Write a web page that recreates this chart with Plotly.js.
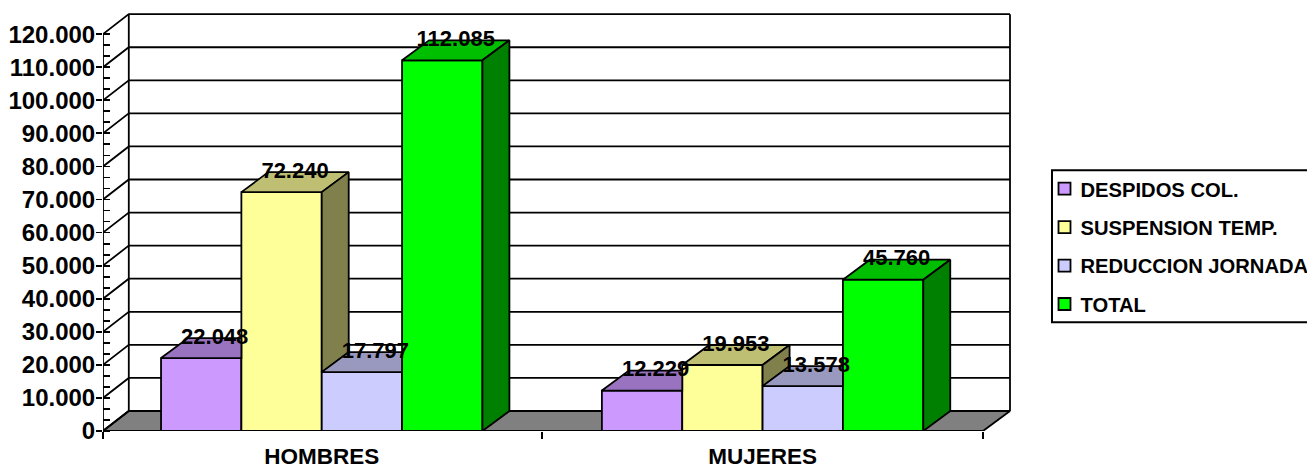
<!DOCTYPE html>
<html>
<head>
<meta charset="utf-8">
<script src="https://cdn.plot.ly/plotly-3.0.1.min.js"></script>
<style>html,body{margin:0;padding:0;background:#fff;overflow:hidden}#chart{width:1307px;height:465px}</style>
</head>
<body>
<div id="chart"></div>
<script>
const categories = ['HOMBRES', 'MUJERES'];
const despidos = [22048, 12229];
const suspension = [72240, 19953];
const reduccion = [17797, 13578];
const total = [112085, 45760];
const seriesNames = ['DESPIDOS COL.', 'SUSPENSION TEMP.', 'REDUCCION JORNADA', 'TOTAL'];
const yTicks = [0,10000,20000,30000,40000,50000,60000,70000,80000,90000,100000,110000,120000];

const seriesValues = [despidos, suspension, reduccion, total];
const frontColors = ['#CC99FF', '#FFFF99', '#CCCCFF', '#00FF00'];
const topColors   = ['#9973BF', '#BFBF73', '#9999BF', '#00BF00'];
const sideColors  = ['#664D80', '#80804D', '#666680', '#008000'];

// scale: pixels per axis unit
const W = 1307, H = 465;
const pxLeft = 102.7, pxRight = 1012, pxBase = 430.8, pxCat0 = 321.5;
const pxPerCat = 441, pxPerY = 397 / 120000;
const yMax = 127000;
const xMin = -(pxCat0 - pxLeft) / pxPerCat, xMax = xMin + (pxRight - pxLeft) / pxPerCat;
const depthX = 27 / pxPerCat, depthY = 20 / pxPerY;
const leftDepthX = 25.8 / pxPerCat;
const floorRight = 1.5;
const barGap = 0.271, barW = (1 - barGap) / 4;
const lw = 1.8;

const fmt = v => String(v).replace(/\B(?=(\d{3})+$)/g, '.');
const traces = [];
const wallL = xMin + leftDepthX, wallR = floorRight + depthX, wallTop = 120000 + depthY;

function poly(pts, fill, overlay) {
  traces.push({
    type: 'scatter', mode: 'lines', x: pts.map(p => p[0]), y: pts.map(p => p[1]),
    fill: 'toself', fillcolor: fill, line: {color: '#000', width: lw},
    showlegend: false, hoverinfo: 'skip', cliponaxis: false,
    xaxis: overlay ? 'x2' : 'x', yaxis: overlay ? 'y2' : 'y'
  });
}

// floor on the base subplot
poly([[xMin, 0], [wallL, depthY], [wallR, depthY], [floorRight, 0], [xMin, 0]], '#808080', false);

// wall grid, side wall and axis lines on the base subplot
const gx = [], gy = [];
yTicks.forEach(v => {
  gx.push(xMin, wallL, wallR, null);
  gy.push(v, v + depthY, v + depthY, null);
});
gx.push(xMin, xMin, null, wallL, wallL, null, wallR, wallR, null, xMin, floorRight);
gy.push(0, 120000, null, depthY, wallTop, null, depthY, wallTop, null, 0, 0);
traces.push({type: 'scatter', mode: 'lines', x: gx, y: gy, line: {color: '#000', width: lw},
  showlegend: false, hoverinfo: 'skip', cliponaxis: false, connectgaps: false});

// front faces: real bars on the overlay subplot
seriesValues.forEach((vals, s) => {
  traces.push({
    type: 'bar', name: seriesNames[s], x: [0, 1], y: vals, xaxis: 'x2', yaxis: 'y2',
    marker: {color: frontColors[s], line: {color: '#000', width: lw}},
    legendgroup: 'g' + s, hoverinfo: 'skip', cliponaxis: false
  });
});

// top and side faces, derived from the same values
categories.forEach((c, ci) => {
  seriesValues.forEach((vals, s) => {
    const v = vals[ci];
    const xl = ci - 2 * barW + s * barW, xr = xl + barW;
    const next = s < seriesValues.length - 1 ? seriesValues[s + 1][ci] : null;
    if (next !== null && next > v) {
      poly([[xl, v], [xl + depthX, v + depthY], [xr, v + depthY], [xr, v], [xl, v]], topColors[s], true);
    } else {
      poly([[xl, v], [xl + depthX, v + depthY], [xr + depthX, v + depthY], [xr, v], [xl, v]], topColors[s], true);
      const low = next === null ? 0 : next;
      poly([[xr, v], [xr + depthX, v + depthY], [xr + depthX, low + depthY], [xr, low], [xr, v]], sideColors[s], true);
    }
  });
});

// value labels
seriesValues.forEach((vals, s) => {
  traces.push({
    type: 'scatter', mode: 'text', xaxis: 'x2', yaxis: 'y2',
    x: vals.map((v, ci) => ci - 2 * barW + (s + 0.5) * barW + depthX / 2),
    y: vals.map(v => v + 20 / pxPerY),
    text: vals.map(fmt), textposition: 'middle center',
    textfont: {family: 'Liberation Sans', size: 22, color: '#000', weight: 700},
    showlegend: false, hoverinfo: 'skip', cliponaxis: false
  });
});

const minorY = [];
for (let k = 0; k <= 36; k++) minorY.push(k * 10000 / 3);

const paperX = px => (px - pxLeft) / (pxRight - pxLeft);
const plotTop = pxBase - yMax * pxPerY;
const paperY = px => (pxBase - px) / (pxBase - plotTop);

const layout = {
  width: W, height: H,
  margin: {l: pxLeft, r: W - pxRight, t: plotTop, b: H - pxBase, pad: 0},
  paper_bgcolor: '#fff', plot_bgcolor: '#fff',
  separators: ',.',
  font: {family: 'Liberation Sans', color: '#000'},
  barmode: 'group', bargap: barGap, bargroupgap: 0,
  showlegend: true,
  legend: {
    xref: 'container', yref: 'container', x: 1040.5 / W, y: 1 - 169 / H,
    xanchor: 'left', yanchor: 'top', borderwidth: 0, bgcolor: 'rgba(0,0,0,0)',
    font: {family: 'Liberation Sans', size: 20.2, color: '#000', weight: 700},
    tracegroupgap: 9.2, itemclick: false, itemdoubleclick: false, traceorder: 'grouped'
  },
  shapes: [{
    type: 'rect', xref: 'paper', yref: 'paper', layer: 'below',
    x0: paperX(1052), x1: paperX(1320), y0: paperY(322), y1: paperY(170),
    line: {color: '#000', width: 2}, fillcolor: '#fff'
  }],
  xaxis: {
    range: [xMin, xMax], tickmode: 'array', tickvals: [0, 1], ticktext: categories,
    ticks: '', showgrid: false, zeroline: false, showline: false, ticklabelstandoff: 9,
    tickfont: {family: 'Liberation Sans', size: 22.5, color: '#000', weight: 700},
    minor: {tickmode: 'array', tickvals: [xMin, 0.5, 1.5], ticks: 'outside', ticklen: 7, tickwidth: lw, tickcolor: '#000', showgrid: false}
  },
  yaxis: {
    range: [0, yMax], tickmode: 'array', tickvals: yTicks, ticktext: yTicks.map(fmt),
    ticks: 'outside', ticklen: 6, tickwidth: lw, tickcolor: '#000',
    showgrid: false, zeroline: false, showline: false, ticklabelstandoff: -4,
    tickfont: {family: 'Liberation Sans', size: 24, color: '#000', weight: 700},
    minor: {tickmode: 'array', tickvals: minorY, ticks: 'inside', ticklen: 7, tickwidth: lw, tickcolor: '#000', showgrid: false}
  },
  xaxis2: {range: [xMin, xMax], overlaying: 'x', visible: false, anchor: 'y2'},
  yaxis2: {range: [0, yMax], overlaying: 'y', visible: false, anchor: 'x2'}
};

Plotly.newPlot('chart', traces, layout, {displayModeBar: false, staticPlot: true}).then(() => {
  // the swatches sit closer to the legend text in the reference
  document.querySelectorAll('.legend .legendsymbols').forEach(el => el.setAttribute('transform', 'translate(4,0)'));
});
</script>
</body>
</html>
